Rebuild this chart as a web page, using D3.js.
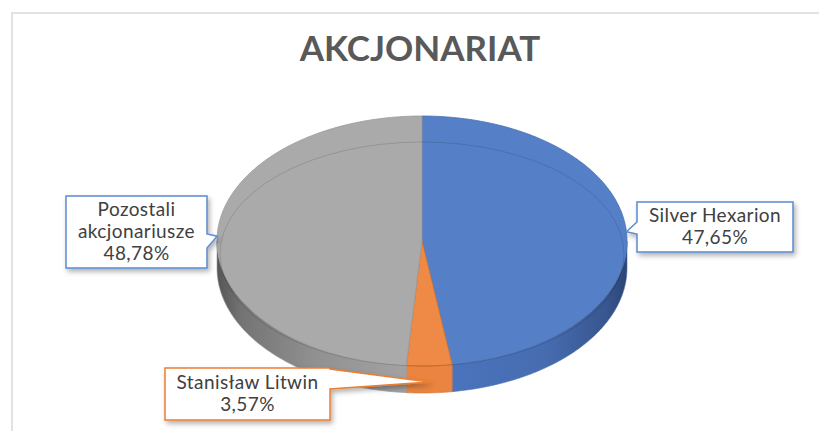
<!DOCTYPE html>
<html>
<head>
<meta charset="utf-8">
<script src="https://cdn.jsdelivr.net/npm/d3@7"></script>
<style>
  html, body { margin: 0; padding: 0; background: #fff; }
  svg { display: block; }
</style>
</head>
<body>
<script>
// ---- data ----
const categories = ["Silver Hexarion", "Stanisław Litwin", "Pozostali akcjonariusze"];
const values = [47.65, 3.57, 48.78];
const valueLabels = ["47,65%", "3,57%", "48,78%"];
const labelLines = [["Silver Hexarion"], ["Stanisław Litwin"], ["Pozostali", "akcjonariusze"]];

// ---- config ----
const width = 819, height = 431;
const cx = 422, cy = 241, rx = 205, ry = 125, depth = 27;
const topColors = ["#5580c8", "#ee8a45", "#aaaaaa"];
const edgeColors = ["#4a6fb0", "#d2722f", "#999999"];
const boxColors = ["#5b8bd0", "#ed7d31", "#5b8bd0"];

const svg = d3.select("body").append("svg")
  .attr("width", width)
  .attr("height", height);

const defs = svg.append("defs");

// soft shadow for callouts
const f = defs.append("filter").attr("id", "shadow")
  .attr("x", "-10%").attr("y", "-10%").attr("width", "130%").attr("height", "140%");
f.append("feDropShadow").attr("dx", 2).attr("dy", 3).attr("stdDeviation", 2.5)
  .attr("flood-color", "#000").attr("flood-opacity", 0.3);

// side gradients
function sideGrad(id, stops) {
  const g = defs.append("linearGradient").attr("id", id)
    .attr("gradientUnits", "userSpaceOnUse")
    .attr("x1", cx - rx).attr("x2", cx + rx).attr("y1", 0).attr("y2", 0);
  stops.forEach(s => g.append("stop").attr("offset", s[0]).attr("stop-color", s[1]));
}
sideGrad("side0", [[0, "#4b76c0"], [0.5, "#4b76c0"], [0.8, "#476cb0"], [0.95, "#38568f"], [1, "#2c4474"]]);
sideGrad("side1", [[0, "#ea8440"], [1, "#ea8440"]]);
sideGrad("side2", [[0, "#555555"], [0.06, "#747474"], [0.25, "#929292"], [0.5, "#a5a5a5"], [1, "#a5a5a5"]]);

// outer frame
svg.append("rect")
  .attr("x", 12).attr("y", 13)
  .attr("width", width + 20).attr("height", height + 20)
  .attr("fill", "none").attr("stroke", "#d9d9d9").attr("stroke-width", 1.5);

// title
svg.append("text")
  .attr("x", 420).attr("y", 61)
  .attr("text-anchor", "middle")
  .attr("font-family", "Lato, 'Open Sans', sans-serif")
  .attr("font-weight", "bold")
  .attr("font-size", 35)
  .attr("fill", "#595959")
  .text("AKCJONARIAT");

// ---- pie geometry ----
const arcs = d3.pie().sort(null).value(d => d)(values);

const px = a => cx + rx * Math.sin(a);
const py = a => cy - ry * Math.cos(a);
const line = d3.line();

function arcPoints(a0, a1, dy = 0) {
  const n = Math.max(2, Math.ceil(Math.abs(a1 - a0) / 0.01));
  return d3.range(n + 1).map(i => {
    const a = a0 + (a1 - a0) * i / n;
    return [px(a), py(a) + dy];
  });
}

const gPie = svg.append("g");

// sides (front half: angle PI/2 .. 3PI/2)
arcs.forEach((d, i) => {
  const a0 = Math.max(d.startAngle, Math.PI / 2);
  const a1 = Math.min(d.endAngle, 3 * Math.PI / 2);
  if (a1 <= a0) return;
  const pts = arcPoints(a0, a1).concat(arcPoints(a1, a0, depth));
  gPie.append("path")
    .attr("d", line(pts) + "Z")
    .attr("fill", `url(#side${i})`)
    .attr("stroke", edgeColors[i])
    .attr("stroke-width", 0.6);
});

// top faces
arcs.forEach((d, i) => {
  const pts = [[cx, cy]].concat(arcPoints(d.startAngle, d.endAngle));
  gPie.append("path")
    .attr("d", line(pts) + "Z")
    .attr("fill", topColors[i])
    .attr("stroke", edgeColors[i])
    .attr("stroke-width", 0.8);
});

// faint bevel line
gPie.append("ellipse")
  .attr("cx", cx).attr("cy", cy + 13)
  .attr("rx", rx - 3).attr("ry", ry - 13)
  .attr("fill", "none")
  .attr("stroke", "rgba(0,0,0,0.13)")
  .attr("stroke-width", 1);

// ---- callouts ----
const boxes = [
  { x: 637, y: 202, w: 156, h: 50, side: "left", b0: 222, b1: 234 },
  { x: 165, y: 368, w: 165, h: 52, side: "right", b0: 369, b1: 389 },
  { x: 66, y: 196, w: 141, h: 72, side: "right", b0: 234, b1: 248 }
];

arcs.forEach((d, i) => {
  const b = boxes[i];
  const mid = (d.startAngle + d.endAngle) / 2;
  let tx = px(mid), ty = py(mid);
  if (Math.cos(mid) < -0.9) ty += depth * 0.6;
  let p;
  if (b.side === "right") {
    const r = b.x + b.w;
    p = [[b.x, b.y], [r, b.y], [r, b.b0], [tx, ty], [r, b.b1], [r, b.y + b.h], [b.x, b.y + b.h]];
  } else {
    p = [[b.x, b.y], [b.x + b.w, b.y], [b.x + b.w, b.y + b.h], [b.x, b.y + b.h], [b.x, b.b1], [tx, ty], [b.x, b.b0]];
  }
  svg.append("path")
    .attr("d", line(p) + "Z")
    .attr("fill", "#fff")
    .attr("stroke", boxColors[i])
    .attr("stroke-width", 1.5)
    .attr("filter", "url(#shadow)");

  const lines = labelLines[i].concat([valueLabels[i]]);
  const lh = 22;
  const t = svg.append("text")
    .attr("text-anchor", "middle")
    .attr("font-family", "Lato, 'Open Sans', sans-serif")
    .attr("font-size", 19)
    .attr("letter-spacing", 0.4)
    .attr("fill", "#404040");
  const startY = b.y + b.h / 2 - (lines.length - 1) * lh / 2 + 6;
  lines.forEach((s, k) => {
    t.append("tspan")
      .attr("x", b.x + b.w / 2)
      .attr("y", startY + k * lh)
      .text(s);
  });
});
</script>
</body>
</html>
